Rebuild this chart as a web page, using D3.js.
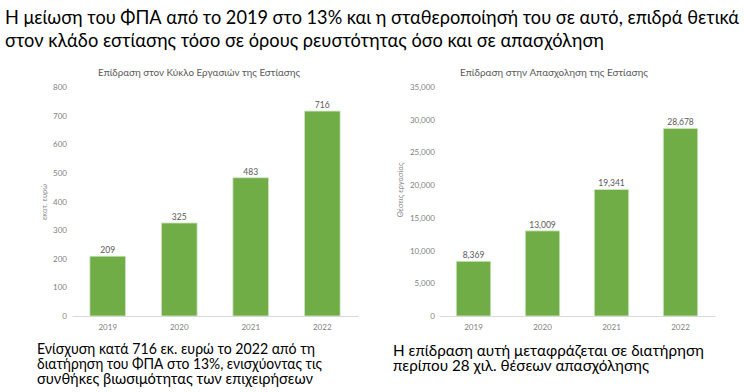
<!DOCTYPE html>
<html>
<head>
<meta charset="utf-8">
<script src="https://cdn.jsdelivr.net/npm/d3@7"></script>
<style>
  html, body { margin: 0; padding: 0; background: #fff; }
  svg { display: block; font-family: Lato, "Open Sans", sans-serif; }
</style>
</head>
<body>
<svg id="chart" width="744" height="392"></svg>
<script>
// ---- data ----
const years = ["2019", "2020", "2021", "2022"];
const turnoverValues = [209, 325, 483, 716];
const turnoverTicks = [0, 100, 200, 300, 400, 500, 600, 700, 800];
const employmentValues = [8369, 13009, 19341, 28678];
const employmentTicks = [0, 5000, 10000, 15000, 20000, 25000, 30000, 35000];

const headline = [
  "Η μείωση του ΦΠΑ από το 2019 στο 13% και η σταθεροποίησή του σε αυτό, επιδρά θετικά",
  "στον κλάδο εστίασης τόσο σε όρους ρευστότητας όσο και σε απασχόληση"
];
const leftNote = [
  "Ενίσχυση κατά 716 εκ. ευρώ το 2022 από τη",
  "διατήρηση του ΦΠΑ στο 13%, ενισχύοντας τις",
  "συνθήκες βιωσιμότητας των επιχειρήσεων"
];
const rightNote = [
  "Η επίδραση αυτή μεταφράζεται σε διατήρηση",
  "περίπου 28 χιλ. θέσεων απασχόλησης"
];

const svg = d3.select("#chart");
const GREEN = "#70ad47";

// headline
const headLens = [734, 599];
headline.forEach((t, i) => {
  svg.append("text")
    .attr("x", 5).attr("y", 24 + i * 23)
    .attr("font-size", 18.5).attr("fill", "#000")
    .attr("textLength", headLens[i]).attr("lengthAdjust", "spacingAndGlyphs")
    .text(t);
});

function drawChart(cfg) {
  const x = d3.scaleBand().domain(years).range([cfg.x0, cfg.x1]).paddingInner(0.5).paddingOuter(0.25);
  const y = d3.scaleLinear().domain([0, cfg.max]).range([316, 87]);
  const g = svg.append("g");

  // title
  g.append("text").attr("x", cfg.titleX).attr("y", 76)
    .attr("text-anchor", "middle").attr("font-size", 10).attr("fill", "#595959")
    .attr("textLength", cfg.titleLen).attr("lengthAdjust", "spacingAndGlyphs")
    .text(cfg.title);

  // y axis labels
  const ya = d3.axisLeft(y).tickValues(cfg.ticks).tickSize(0).tickPadding(0)
    .tickFormat(cfg.fmt);
  const yg = g.append("g").attr("transform", `translate(${cfg.yLabelX},0)`).call(ya);
  yg.select(".domain").remove();
  yg.selectAll("text").attr("font-size", 8).attr("fill", "#7f7f7f").attr("font-family", "Lato, sans-serif");

  // y axis title
  g.append("text")
    .attr("transform", `translate(${cfg.yTitleX},${cfg.yTitleY}) rotate(-90)`)
    .attr("text-anchor", "middle").attr("font-size", 7.5).attr("fill", "#8c8c8c")
    .text(cfg.yTitle);

  // bars
  g.selectAll("rect.bar").data(cfg.values).join("rect")
    .attr("class", "bar")
    .attr("x", (d, i) => x(years[i]))
    .attr("y", d => y(d))
    .attr("width", x.bandwidth())
    .attr("height", d => y(0) - y(d))
    .attr("fill", GREEN)
    .attr("stroke", "#d5e8c8").attr("stroke-width", 0.8);

  // data labels
  g.selectAll("text.lbl").data(cfg.values).join("text")
    .attr("class", "lbl")
    .attr("x", (d, i) => x(years[i]) + x.bandwidth() / 2)
    .attr("y", d => y(d) - 3)
    .attr("text-anchor", "middle").attr("font-size", 8.5).attr("fill", "#595959")
    .text(d => cfg.fmt(d));

  // x axis
  const xa = d3.axisBottom(x).tickSize(0).tickPadding(8);
  const xg = g.append("g").attr("transform", "translate(0,316)").call(xa);
  xg.select(".domain").attr("stroke", "#d9d9d9").attr("stroke-width", 1);
  xg.selectAll("text").attr("font-size", 8).attr("fill", "#7f7f7f").attr("font-family", "Lato, sans-serif");
}

drawChart({
  values: turnoverValues, ticks: turnoverTicks, max: 800,
  x0: 72, x1: 358, yLabelX: 67, yTitleX: 47, yTitleY: 202,
  title: "Επίδραση στον Κύκλο Εργασιών της Εστίασης", titleX: 199, titleLen: 202,
  yTitle: "εκατ. ευρώ", fmt: d3.format("d")
});
drawChart({
  values: employmentValues, ticks: employmentTicks, max: 35000,
  x0: 439, x1: 715, yLabelX: 435, yTitleX: 403, yTitleY: 190,
  title: "Επίδραση στην Απασχοληση της Εστίασης", titleX: 554, titleLen: 188,
  yTitle: "Θέσεις εργασίας", fmt: d3.format(",")
});

// bottom notes
const leftLens = [278, 285, 276];
leftNote.forEach((t, i) => {
  svg.append("text").attr("x", 37).attr("y", 354 + i * 14.8)
    .attr("font-size", 15).attr("fill", "#000")
    .attr("textLength", leftLens[i]).attr("lengthAdjust", "spacingAndGlyphs")
    .text(t);
});
const rightLens = [311, 256];
rightNote.forEach((t, i) => {
  svg.append("text").attr("x", 393).attr("y", 356 + i * 15.3)
    .attr("font-size", 15).attr("fill", "#000")
    .attr("textLength", rightLens[i]).attr("lengthAdjust", "spacingAndGlyphs")
    .text(t);
});
</script>
</body>
</html>
